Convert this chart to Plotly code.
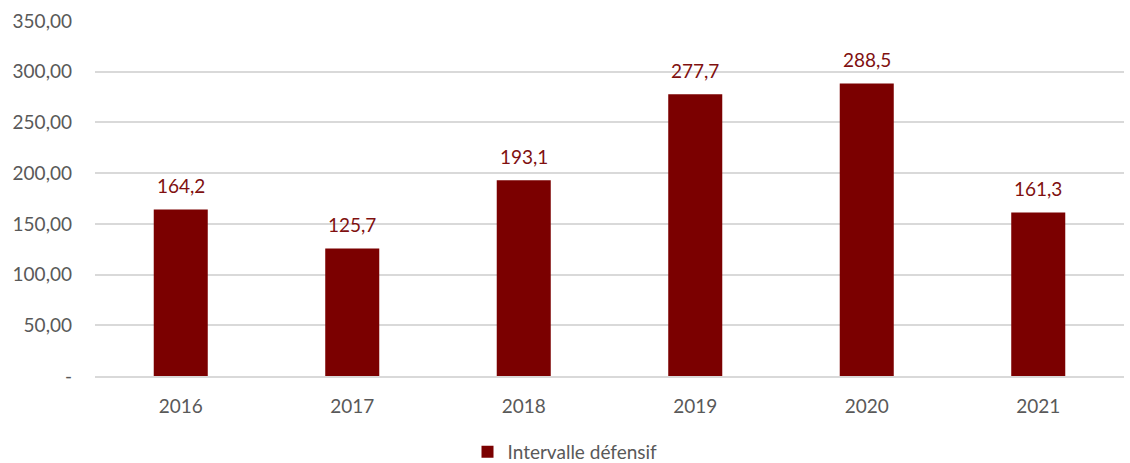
import plotly.graph_objects as go

years = ["2016", "2017", "2018", "2019", "2020", "2021"]
intervalle = [164.2, 125.7, 193.1, 277.7, 288.5, 161.3]
y_ticks = [0, 50, 100, 150, 200, 250, 300, 350]
y_tick_labels = ["-", "50,00", "100,00", "150,00", "200,00", "250,00", "300,00", "350,00"]

bar_color = "#7B0000"
label_color = "#801010"
text_gray = "#595959"
grid_gray = "#D9D9D9"
font_family = "Lato, 'Open Sans', sans-serif"
fs = 19

fig = go.Figure()
fig.add_trace(go.Bar(
    x=years,
    y=intervalle,
    name="Intervalle défensif",
    marker=dict(color=bar_color, line=dict(width=0)),
))

# value labels above each bar (category index on the x axis)
for i, v in enumerate(intervalle):
    fig.add_annotation(
        x=i, y=v, text=f"{v:.1f}".replace(".", ","),
        showarrow=False, yanchor="middle", yshift=24,
        font=dict(family=font_family, size=fs, color=label_color),
    )

fig.update_layout(
    width=1130, height=463,
    margin=dict(l=95, r=6, t=21, b=87, autoexpand=False),
    paper_bgcolor="white", plot_bgcolor="white",
    bargap=0.685,
    separators=", ",
    font=dict(family=font_family, size=fs, color=text_gray),
    showlegend=True,
    legend=dict(
        orientation="h", xref="container", yref="container",
        x=0.5, xanchor="center", y=0.024, yanchor="middle",
        font=dict(family=font_family, size=fs, color=text_gray),
        itemwidth=30,
    ),
    xaxis=dict(
        type="category", range=[-0.5, len(years) - 0.5],
        showgrid=False, showline=True, linecolor=grid_gray, linewidth=1.5,
        ticks="", ticklabelstandoff=12,
        tickfont=dict(size=fs, color=text_gray),
    ),
    yaxis=dict(
        range=[0, 350], tickvals=y_ticks, ticktext=y_tick_labels,
        showgrid=True, gridcolor=grid_gray, gridwidth=1.5,
        zeroline=False, showline=False, ticks="",
        ticklabelstandoff=22,
        tickfont=dict(size=fs, color=text_gray),
    ),
)

fig.write_html("out.html")
